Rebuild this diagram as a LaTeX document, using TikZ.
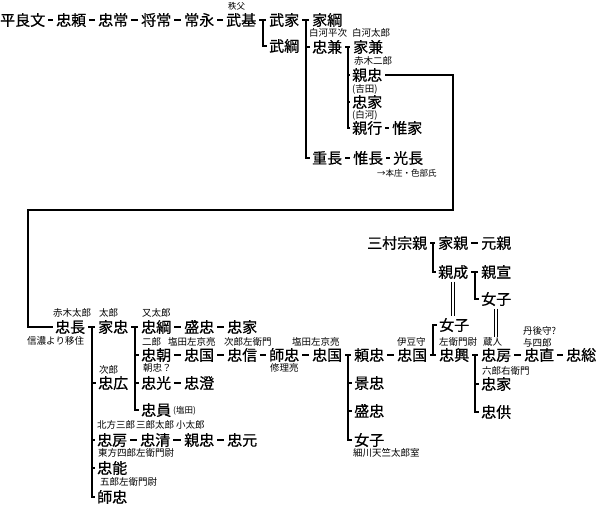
\documentclass[tikz,border=0pt]{standalone}
\usepackage{fontspec}
\newfontfamily\jp{Noto Sans CJK JP}
\newfontfamily\jpb[FakeBold=0.6]{Noto Sans CJK JP}
\usetikzlibrary{calc}
\begin{document}
\begin{tikzpicture}[x=1pt,y=-1pt,
  nm/.style={inner sep=0pt, anchor=west, font=\jpb\fontsize{15}{15}\selectfont, text height=13.2pt, text depth=1.8pt},
  lb/.style={inner sep=0pt, anchor=west, font=\jp\fontsize{9.5}{9.5}\selectfont},
  sl/.style={inner sep=0pt, anchor=west, font=\jp\fontsize{8.5}{8.5}\selectfont},
  ln/.style={line width=1.8pt},
  dsh/.style={line width=1.8pt, shorten <=2.6pt, shorten >=2.6pt},
  stub/.style={line width=1.8pt, shorten >=2pt},
  dl/.style={double, double distance=2pt, line width=1pt}]
\useasboundingbox (0,0) rectangle (600,504);
% ---------- row 1
\node[nm] (a1) at (0,20) {平良文};
\node[nm] (a2) at (56,20) {忠頼};
\node[nm] (a3) at (98,20) {忠常};
\node[nm] (a4) at (141,20) {将常};
\node[nm] (a5) at (184,20) {常永};
\node[nm] (a6) at (226,20) {武基};
\node[nm] (a7) at (269,20) {武家};
\node[nm] (a8) at (269,46) {武綱};
\node[nm] (a9) at (312,20) {家綱};
\node[nm] (a10) at (312,47) {忠兼};
\node[nm] (a11) at (312,158) {重長};
\node[nm] (a12) at (353,158) {惟長};
\node[nm] (a13) at (393,158) {光長};
\node[nm] (a14) at (353,47) {家兼};
\node[nm] (a15) at (352,75) {親忠};
\node[nm] (a16) at (352,102) {忠家};
\node[nm] (a17) at (352,128) {親行};
\node[nm] (a18) at (392,128) {惟家};
\node[sl] (l1) at (228,6) {秩父};
\node[lb] (l2) at (309,33) {白河平次};
\node[lb] (l3) at (352,33) {白河太郎};
\node[lb] (l4) at (354,61) {赤木二郎};
\node[lb] (l5) at (352,89) {(吉田)};
\node[lb] (l6) at (352,115) {(白河)};
\node[sl] (l7) at (377,173) {→本庄・色部氏};
\draw[dsh] (a1) -- (a2);
\draw[dsh] (a2) -- (a3);
\draw[dsh] (a3) -- (a4);
\draw[dsh] (a4) -- (a5);
\draw[dsh] (a5) -- (a6);
\draw[dsh] (a6) -- (a7);
\draw[stub] ($(a6.east)!0.5!(a7.west)$) |- (a8.west);
\draw[dsh] (a7) -- (a9);
\draw[stub] ($(a7.east)!0.5!(a9.west)$) |- (a10.west);
\draw[stub] ($(a7.east)!0.5!(a9.west)$) |- (a11.west);
\draw[dsh] (a11) -- (a12);
\draw[dsh] (a12) -- (a13);
\draw[dsh] (a10) -- (a14);
\draw[stub] ($(a10.east)!0.5!(a14.west)$) |- (a15.west);
\draw[stub] ($(a10.east)!0.5!(a14.west)$) |- (a16.west);
\draw[stub] ($(a10.east)!0.5!(a14.west)$) |- (a17.west);
\draw[dsh] (a17) -- (a18);
% ---------- long connector
\coordinate (k1) at (453,210);
\coordinate (k2) at (28,210);
% ---------- row 3
\node[nm] (b1) at (367,243) {三村宗親};
\node[nm] (b2) at (438,243) {家親};
\node[nm] (b3) at (481,243) {元親};
\node[nm] (b4) at (438,272) {親成};
\node[nm] (b5) at (481,272) {親宣};
\node[nm] (b6) at (481,299) {女子};
\draw[dsh] (b1) -- (b2);
\draw[stub] ($(b1.east)!0.5!(b2.west)$) |- (b4.west);
\draw[dsh] (b2) -- (b3);
\draw[dsh] (b4) -- (b5);
\draw[stub] ($(b4.east)!0.5!(b5.west)$) |- (b6.west);
% ---------- row 4
\node[nm] (c1) at (55,327) {忠長};
\node[nm] (c2) at (98,327) {家忠};
\node[nm] (c3) at (141,327) {忠綱};
\node[nm] (c4) at (184,327) {盛忠};
\node[nm] (c5) at (227,327) {忠家};
\node[nm] (c6) at (141,355) {忠朝};
\node[nm] (c7) at (184,355) {忠国};
\node[nm] (c8) at (227,355) {忠信};
\node[nm] (c9) at (269,355) {師忠};
\node[nm] (c10) at (312,355) {忠国};
\node[nm] (c11) at (354,355) {頼忠};
\node[nm] (c12) at (397,355) {忠国};
\node[nm] (c13) at (439,355) {忠興};
\node[nm] (c14) at (481,355) {忠房};
\node[nm] (c15) at (524,355) {忠直};
\node[nm] (c16) at (566,355) {忠総};
\node[nm] (c17) at (439,325) {女子};
\node[nm] (c18) at (481,384) {忠家};
\node[nm] (c19) at (481,412) {忠供};
\node[nm] (c20) at (354,383) {景忠};
\node[nm] (c21) at (354,411) {盛忠};
\node[nm] (c22) at (354,440) {女子};
\node[nm] (c23) at (98,383) {忠広};
\node[nm] (c24) at (141,383) {忠光};
\node[nm] (c25) at (184,383) {忠澄};
\node[nm] (c26) at (141,410) {忠員};
\node[nm] (c27) at (97,440) {忠房};
\node[nm] (c28) at (140,440) {忠清};
\node[nm] (c29) at (184,440) {親忠};
\node[nm] (c30) at (227,440) {忠元};
\node[nm] (c31) at (97,468) {忠能};
\node[nm] (c32) at (97,497) {師忠};
% labels
\node[lb] (m1) at (53,313) {赤木太郎};
\node[lb] (m2) at (99,313) {太郎};
\node[lb] (m3) at (142,313) {又太郎};
\node[lb] (m4) at (27,341) {信濃より移住};
\node[lb] (m5) at (142,342) {二郎};
\node[lb] (m6) at (168,342) {塩田左京亮};
\node[lb] (m7) at (224,342) {次郎左衛門};
\node[lb] (m8) at (292,342) {塩田左京亮};
\node[lb] (m9) at (143,368) {朝忠？};
\node[lb] (m10) at (99,370) {次郎};
\node[lb] (m11) at (270,368) {修理亮};
\node[sl] (m12) at (173,411) {(塩田)};
\node[lb] (m13) at (97,425) {北方三郎};
\node[lb] (m14) at (136,425) {三郎太郎};
\node[lb] (m15) at (176,425) {小太郎};
\node[lb] (m16) at (98,453) {東方四郎左衛門尉};
\node[lb] (m17) at (100,482) {五郎左衛門尉};
\node[lb] (m18) at (353,453) {細川天竺太郎室};
\node[lb] (m19) at (397,342) {伊豆守};
\node[lb] (m20) at (439,342) {左衛門尉};
\node[lb] (m21) at (483,342) {蔵人};
\node[lb] (m22) at (523,331) {丹後守?};
\node[lb] (m23) at (523,343) {与四郎};
\node[lb] (m24) at (482,371) {六郎右衛門};
% long connector
\draw[ln, shorten <=3pt, shorten >=2pt] (a15.east) -| (k1) -- (k2) |- (c1.west);
% connectors row 4
\draw[dsh] (c1) -- (c2);
\foreach \t in {c23,c27,c31,c32}
  \draw[stub] ($(c1.east)!0.5!(c2.west)$) |- (\t.west);
\draw[dsh] (c2) -- (c3);
\foreach \t in {c6,c24,c26}
  \draw[stub] ($(c2.east)!0.5!(c3.west)$) |- (\t.west);
\draw[dsh] (c3) -- (c4);
\draw[dsh] (c4) -- (c5);
\draw[dsh] (c6) -- (c7);
\draw[dsh] (c7) -- (c8);
\draw[dsh] (c8) -- (c9);
\draw[dsh] (c9) -- (c10);
\draw[dsh] (c10) -- (c11);
\foreach \t in {c20,c21,c22}
  \draw[stub] ($(c10.east)!0.5!(c11.west)$) |- (\t.west);
\draw[dsh] (c11) -- (c12);
\draw[dsh] (c12) -- (c13);
\draw[stub] ($(c12.east)!0.5!(c13.west)$) |- (c17.west);
\draw[dsh] (c13) -- (c14);
\foreach \t in {c18,c19}
  \draw[stub] ($(c13.east)!0.5!(c14.west)$) |- (\t.west);
\draw[dsh] (c14) -- (c15);
\draw[dsh] (c15) -- (c16);
\draw[dsh] (c24) -- (c25);
\draw[dsh] (c27) -- (c28);
\draw[dsh] (c28) -- (c29);
\draw[dsh] (c29) -- (c30);
% double lines (marriage)
\draw[dl] ([yshift=-2pt]b4.south) -- ([yshift=1pt]b4.south |- c17.north);
\draw[dl] ([yshift=-2pt]b6.south) -- (b6.south |- m21.north);
\end{tikzpicture}
\end{document}
